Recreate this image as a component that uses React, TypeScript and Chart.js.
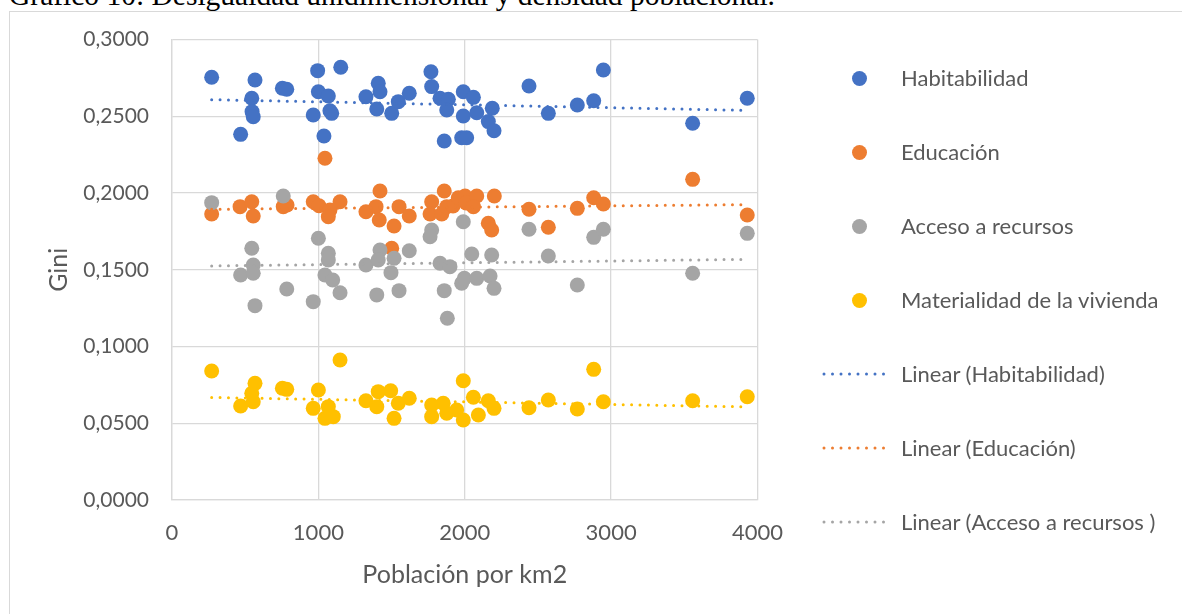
import React, { useEffect, useRef } from "react";
import { Chart, registerables } from "chart.js";

Chart.register(...registerables);

const titleText = "Gráfico 10: Desigualdad unidimensional y densidad poblacional.";
const xAxisTitle = "Población por km2";
const yAxisTitle = "Gini";
const seriesNames = ["Habitabilidad", "Educación", "Acceso a recursos", "Materialidad de la vivienda"];
const trendNames = ["Linear (Habitabilidad)", "Linear (Educación)", "Linear (Acceso a recursos )", "Linear (Materialidad de la vivienda)"];
const colors = ["#4472C4", "#ED7D31", "#A5A5A5", "#FFC000"];
const xTicks = [0, 1000, 2000, 3000, 4000];
const yTicks = [0, 0.05, 0.1, 0.15, 0.2, 0.25, 0.3];

const habX = [271, 469, 545, 547, 555, 567, 754, 784, 965, 995, 1000, 1038, 1068, 1079, 1091, 1153, 1325, 1409, 1421, 1399, 1501, 1546, 1621, 1769, 1774, 1831, 1888, 1877, 1860, 1990, 2059, 1990, 2082, 2188, 2161, 2200, 1979, 2013, 2439, 2571, 2769, 2881, 2947, 3557, 3930];
const habY = [0.2754, 0.2382, 0.2617, 0.2530, 0.2497, 0.2736, 0.2682, 0.2676, 0.2508, 0.2797, 0.2660, 0.2371, 0.2632, 0.2536, 0.2519, 0.2819, 0.2627, 0.2715, 0.2660, 0.2547, 0.2519, 0.2595, 0.2650, 0.2790, 0.2693, 0.2617, 0.2610, 0.2541, 0.2339, 0.2660, 0.2623, 0.2502, 0.2523, 0.2552, 0.2465, 0.2406, 0.2360, 0.2360, 0.2697, 0.2519, 0.2573, 0.2601, 0.2801, 0.2454, 0.2617];

const eduX = [271, 465, 545, 555, 760, 786, 965, 1004, 1045, 1079, 1068, 1148, 1325, 1421, 1394, 1416, 1517, 1551, 1621, 1501, 1860, 1774, 1763, 1843, 1877, 1920, 1956, 2002, 2009, 2082, 2059, 2202, 2161, 2184, 2439, 2571, 2769, 2881, 2947, 3557, 3930];
const eduY = [0.1863, 0.1911, 0.1943, 0.1850, 0.1911, 0.1922, 0.1943, 0.1917, 0.2226, 0.1889, 0.1846, 0.1943, 0.1878, 0.2013, 0.1911, 0.1824, 0.1785, 0.1911, 0.1850, 0.1640, 0.2013, 0.1943, 0.1863, 0.1863, 0.1911, 0.1915, 0.1969, 0.1980, 0.1935, 0.1980, 0.1911, 0.1980, 0.1803, 0.1759, 0.1894, 0.1777, 0.1900, 0.1969, 0.1928, 0.2089, 0.1857];

const accX = [271, 469, 545, 555, 555, 567, 760, 784, 965, 1000, 1068, 1068, 1045, 1098, 1148, 1325, 1399, 1421, 1409, 1517, 1496, 1551, 1621, 1774, 1763, 1990, 1831, 1899, 2048, 2184, 1860, 1979, 1997, 2082, 2173, 2200, 1881, 2439, 2571, 2769, 2881, 2947, 3557, 3930];
const accY = [0.1937, 0.1466, 0.1640, 0.1531, 0.1477, 0.1266, 0.1980, 0.1375, 0.1292, 0.1705, 0.1607, 0.1564, 0.1466, 0.1433, 0.1350, 0.1531, 0.1336, 0.1629, 0.1564, 0.1575, 0.1481, 0.1364, 0.1624, 0.1759, 0.1715, 0.1813, 0.1542, 0.1520, 0.1603, 0.1596, 0.1364, 0.1412, 0.1444, 0.1444, 0.1459, 0.1379, 0.1184, 0.1764, 0.1590, 0.1401, 0.1711, 0.1764, 0.1477, 0.1737];

const matX = [271, 469, 545, 567, 555, 754, 784, 965, 1000, 1068, 1045, 1102, 1148, 1325, 1409, 1494, 1399, 1546, 1621, 1517, 1774, 1853, 1774, 1877, 1945, 1990, 1990, 2059, 2093, 2161, 2200, 2439, 2571, 2769, 2881, 2947, 3557, 3930];
const matY = [0.0840, 0.0612, 0.0695, 0.0760, 0.0640, 0.0728, 0.0721, 0.0597, 0.0717, 0.0608, 0.0532, 0.0543, 0.0912, 0.0647, 0.0706, 0.0712, 0.0608, 0.0630, 0.0663, 0.0532, 0.0619, 0.0630, 0.0543, 0.0565, 0.0586, 0.0777, 0.0521, 0.0669, 0.0554, 0.0647, 0.0597, 0.0601, 0.0651, 0.0593, 0.0851, 0.0640, 0.0647, 0.0673];

const trendX = [271, 3930];
const habTrend = [0.2608, 0.2538];
const eduTrend = [0.1894, 0.1924];
const accTrend = [0.1525, 0.1568];
const matTrend = [0.0668, 0.0607];

const FONT = "Lato, 'Open Sans', sans-serif";
const TEXT = "#595959";
const GRID = "#D9D9D9";

const toPoints = (xs: number[], ys: number[]) => xs.map((x, i) => ({ x, y: ys[i] }));

const legendTop = 78;
const legendStep = 74;
const legendShown = 7;

export default function App() {
  const ref = useRef<HTMLCanvasElement | null>(null);

  useEffect(() => {
    if (!ref.current) return;
    const scatterSets = [
      [habX, habY],
      [eduX, eduY],
      [accX, accY],
      [matX, matY],
    ].map(([xs, ys], i) => ({
      type: "scatter" as const,
      label: seriesNames[i],
      data: toPoints(xs, ys),
      backgroundColor: colors[i],
      borderColor: colors[i],
      borderWidth: 0,
      pointRadius: 7.5,
      pointHoverRadius: 7.5,
      order: 10 - i,
    }));
    const trendSets = [habTrend, eduTrend, accTrend, matTrend].map((ys, i) => ({
      type: "line" as const,
      label: trendNames[i],
      data: toPoints(trendX, ys),
      borderColor: colors[i],
      backgroundColor: colors[i],
      borderWidth: 3,
      borderDash: [0, 8.4],
      borderCapStyle: "round" as const,
      pointRadius: 0,
      showLine: true,
      fill: false,
      order: 4 - i,
    }));

    const chart = new Chart(ref.current, {
      type: "scatter",
      data: { datasets: [...scatterSets, ...trendSets] as any },
      options: {
        responsive: false,
        animation: false,
        events: [],
        layout: { padding: { left: 0, right: 424.5, top: 39.5, bottom: 0 } },
        plugins: { legend: { display: false }, tooltip: { enabled: false }, title: { display: false } },
        scales: {
          x: {
            type: "linear",
            min: xTicks[0],
            max: xTicks[xTicks.length - 1],
            afterFit: (s: any) => { s.height = 114; },
            afterBuildTicks: (s: any) => { s.ticks = xTicks.map((v) => ({ value: v })); },
            grid: { color: GRID, lineWidth: 1.3, drawTicks: false },
            border: { color: GRID, width: 1.3 },
            ticks: { color: TEXT, font: { family: FONT, size: 22 }, padding: 20, callback: (v: any) => String(v) },
            title: { display: true, text: xAxisTitle, color: TEXT, font: { family: FONT, size: 25 }, padding: { top: 0, bottom: 24 } },
          },
          y: {
            type: "linear",
            min: yTicks[0],
            max: yTicks[yTicks.length - 1],
            afterFit: (s: any) => { s.width = 172; },
            afterBuildTicks: (s: any) => { s.ticks = yTicks.map((v) => ({ value: v })); },
            grid: { color: GRID, lineWidth: 1.3, drawTicks: false },
            border: { color: GRID, width: 1.3 },
            ticks: { color: TEXT, font: { family: FONT, size: 21 }, padding: 23, callback: (v: any) => Number(v).toFixed(4).replace(".", ",") },
            title: { display: true, text: yAxisTitle, color: TEXT, font: { family: FONT, size: 25 }, padding: { top: 44, bottom: 0 } },
          },
        },
      },
    });
    return () => chart.destroy();
  }, []);

  const legendItems = [
    ...seriesNames.map((n, i) => ({ name: n, color: colors[i], kind: "dot" })),
    ...trendNames.map((n, i) => ({ name: n, color: colors[i], kind: "line" })),
  ].slice(0, legendShown);

  return (
    <div style={{ position: "fixed", left: 0, top: 0, width: 1182, height: 614, overflow: "hidden", background: "#fff" }}>
      <div style={{ position: "absolute", left: 9, top: 10.5, width: 1300, height: 800, border: `1px solid ${GRID}`, boxSizing: "border-box" }} />
      <div style={{ position: "absolute", left: 9, top: -19, fontFamily: "'Liberation Serif', 'Times New Roman', serif", fontSize: 29.5, lineHeight: "29.5px", whiteSpace: "nowrap", color: "#000" }}>
        {titleText}
      </div>
      <canvas ref={ref} width={1182} height={614} style={{ position: "absolute", left: 0, top: 0, width: 1182, height: 614 }} />
      {legendItems.map((it, i) => {
        const cy = legendTop + i * legendStep;
        return (
          <div key={i} style={{ position: "absolute", left: 0, top: cy - 20, height: 40, width: 1182, pointerEvents: "none" }}>
            {it.kind === "dot" ? (
              <div style={{ position: "absolute", left: 859 - 7.5, top: 20 - 7.5, width: 15, height: 15, borderRadius: "50%", background: it.color }} />
            ) : (
              <svg style={{ position: "absolute", left: 820, top: 14 }} width={78} height={12}>
                <line x1={4} y1={6} x2={72} y2={6} stroke={it.color} strokeWidth={3} strokeDasharray="0 8.5" strokeLinecap="round" />
              </svg>
            )}
            <div style={{ position: "absolute", left: 901, top: 0, height: 40, lineHeight: "40px", fontFamily: FONT, fontSize: 22, color: TEXT, whiteSpace: "nowrap" }}>
              {it.name}
            </div>
          </div>
        );
      })}
    </div>
  );
}
